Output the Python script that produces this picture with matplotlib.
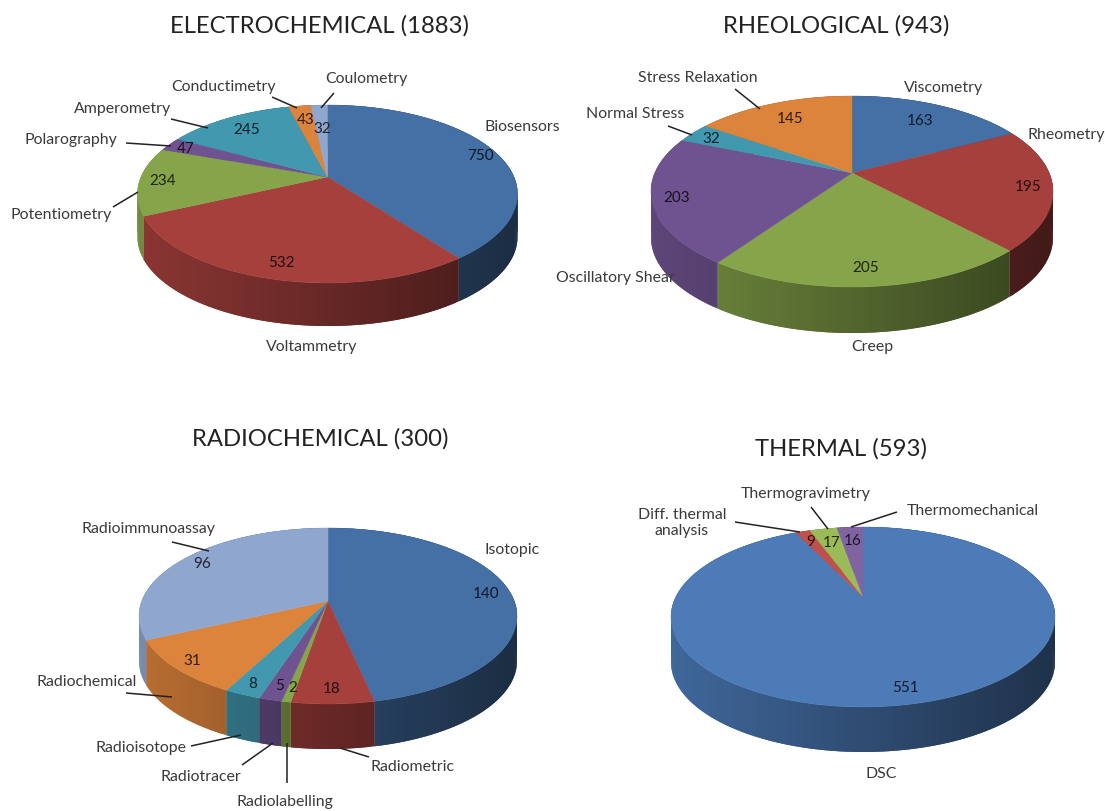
import numpy as np
import matplotlib
matplotlib.use("Agg")
import matplotlib.pyplot as plt
from matplotlib.colors import to_rgb

# ---- data ----
electro_labels = ["Biosensors", "Voltammetry", "Potentiometry", "Polarography", "Amperometry", "Conductimetry", "Coulometry"]
electro_values = [750, 532, 234, 47, 245, 43, 32]
rheo_labels = ["Viscometry", "Rheometry", "Creep", "Oscillatory Shear", "Normal Stress", "Stress Relaxation"]
rheo_values = [163, 195, 205, 203, 32, 145]
radio_labels = ["Isotopic", "Radiometric", "Radiolabelling", "Radiotracer", "Radioisotope", "Radiochemical", "Radioimmunoassay"]
radio_values = [140, 18, 2, 5, 8, 31, 96]
thermal_labels = ["DSC", "Diff. thermal\nanalysis", "Thermogravimetry", "Thermomechanical"]
thermal_values = [551, 9, 17, 16]

# ---- style ----
PALETTE = ["#4470A6", "#A5403D", "#86A44A", "#6F5390", "#4198AF", "#DC833C", "#8FA6CE"]
THERMAL_PALETTE = ["#4C7BB8", "#C0504D", "#9BBB59", "#8064A2"]
TEXT = "#3a3a3a"
FONT = "Lato"

charts = [
    dict(title="ELECTROCHEMICAL (1883)", title_xy=(320, 26), labels=electro_labels, values=electro_values,
         palette=PALETTE, apex=(327.5, 177), rx=190, top=72, bottom=106, depth=43,
         label_xy=[(522, 127), (312, 347), (61, 215), (71, 140), (123, 109), (224, 87), (366, 79)],
         value_xy=[(480, 156), (281, 263), (163, 181), (186, 149), (247, 130), (306, 120), (322, 129)],
         leaders=[((334, 93), (321, 108)), ((272, 97), (297, 108)), ((171, 119), (208, 128)),
                  ((126, 143), (171, 146)), ((113, 207), (138, 192))]),
    dict(title="RHEOLOGICAL (943)", title_xy=(836, 26), labels=rheo_labels, values=rheo_values,
         palette=PALETTE, apex=(852, 173), rx=201, top=77, bottom=114, depth=46,
         label_xy=[(944, 88), (1066, 135), (872, 347), (615, 278), (635, 114), (698, 78)],
         value_xy=[(920, 121), (1028, 187), (866, 268), (677, 198), (711, 139), (790, 119)],
         leaders=[((735, 89), (760, 109)), ((668, 126), (692, 135))]),
    dict(title="RADIOCHEMICAL (300)", title_xy=(320, 439), labels=radio_labels, values=radio_values,
         palette=PALETTE, apex=(328, 601), rx=189, top=73, bottom=103, depth=45,
         label_xy=[(512, 550), (413, 767), (285, 802), (201, 777), (141, 748), (87, 682), (148, 529)],
         value_xy=[(486, 594), (332, 689), (293, 688), (280, 686), (253, 684), (192, 661), (202, 564)],
         leaders=[((172, 542), (209, 551)), ((126, 693), (172, 697)), ((191, 746), (241, 735)),
                  ((242, 765), (273, 743)), ((287, 783), (287, 743)), ((369, 757), (340, 748))]),
    dict(title="THERMAL (593)", title_xy=(841, 449), labels=thermal_labels, values=thermal_values,
         palette=THERMAL_PALETTE, apex=(863, 597), rx=192, top=70, bottom=110, depth=45,
         label_xy=[(881, 774), (682, 523), (806, 494), (973, 511)],
         value_xy=[(905, 688), (811, 542), (832, 543), (853, 541)],
         leaders=[((811, 507), (828, 529)), ((897, 512), (851, 527)), ((735, 522), (800, 532))]),
]

fig = plt.figure(figsize=(11.05, 8.11), dpi=100, facecolor="white")
ax = fig.add_axes([0, 0, 1, 1])
ax.set_xlim(0, 1105)
ax.set_ylim(811, 0)
ax.axis("off")


def projector(c):
    """Perspective view of the unit disc seen from the front."""
    k = (c["bottom"] - c["top"]) / (c["bottom"] + c["top"])
    b = c["top"] * (1 + k)
    a = c["rx"] * np.sqrt(1 - k * k)
    cx, cy = c["apex"]

    def project(theta):
        u, v = np.sin(theta), np.cos(theta)
        w = 1 + k * v
        return cx + a * u / w, cy - b * v / w
    return project


def side_factor(x, c):
    t = np.clip((x - (c["apex"][0] - c["rx"])) / (2 * c["rx"]), 0, 1)
    return 0.84 - 0.44 * t


for c in charts:
    project = projector(c)
    vals = np.asarray(c["values"], dtype=float)
    edges = np.concatenate([[0], np.cumsum(vals)]) / vals.sum() * 2 * np.pi

    # side wall: each strip runs on to the end of its slice, and the next one paints over it,
    # so no seams show. Only the front half (angles 90..270 degrees) can be seen.
    for i in range(len(vals)):
        base = np.array(to_rgb(c["palette"][i % len(c["palette"])]))
        lo, hi = edges[i], edges[i + 1]
        n = max(2, int(np.degrees(hi - lo) / 1.0))
        th = np.linspace(lo, hi, n + 1)
        for j in range(n):
            arc = th[j:min(j + 3, n + 1)]
            x, y = project(arc)
            col = base * side_factor((x[0] + x[1]) / 2, c)
            ax.fill(np.r_[x, x[::-1]], np.r_[y, y[::-1] + c["depth"]],
                    facecolor=col, edgecolor="none", lw=0, zorder=2)

    # top surface
    for i in range(len(vals)):
        th = np.linspace(edges[i], edges[i + 1], 200)
        x, y = project(th)
        ax.fill(np.r_[c["apex"][0], x], np.r_[c["apex"][1], y],
                color=c["palette"][i % len(c["palette"])], lw=0.3, zorder=3)

    # texts
    ax.text(*c["title_xy"], c["title"], fontsize=17.2, family=FONT, color="#222222",
            ha="center", va="center", zorder=6)
    for lab, xy in zip(c["labels"], c["label_xy"]):
        ax.text(*xy, lab, fontsize=11.4, family=FONT, color=TEXT, ha="center", va="center",
                linespacing=1.25, zorder=6)
    for i, (val, xy) in enumerate(zip(c["values"], c["value_xy"])):
        dark = np.array(to_rgb(c["palette"][i % len(c["palette"])])) * 0.22
        ax.text(*xy, str(val), fontsize=11, family=FONT, color=dark, ha="center", va="center", zorder=6)
    for p, q in c["leaders"]:
        ax.plot([p[0], q[0]], [p[1], q[1]], color="#222222", lw=1.1, zorder=5, solid_capstyle="butt")

fig.savefig("out.png", dpi=100, facecolor="white")
